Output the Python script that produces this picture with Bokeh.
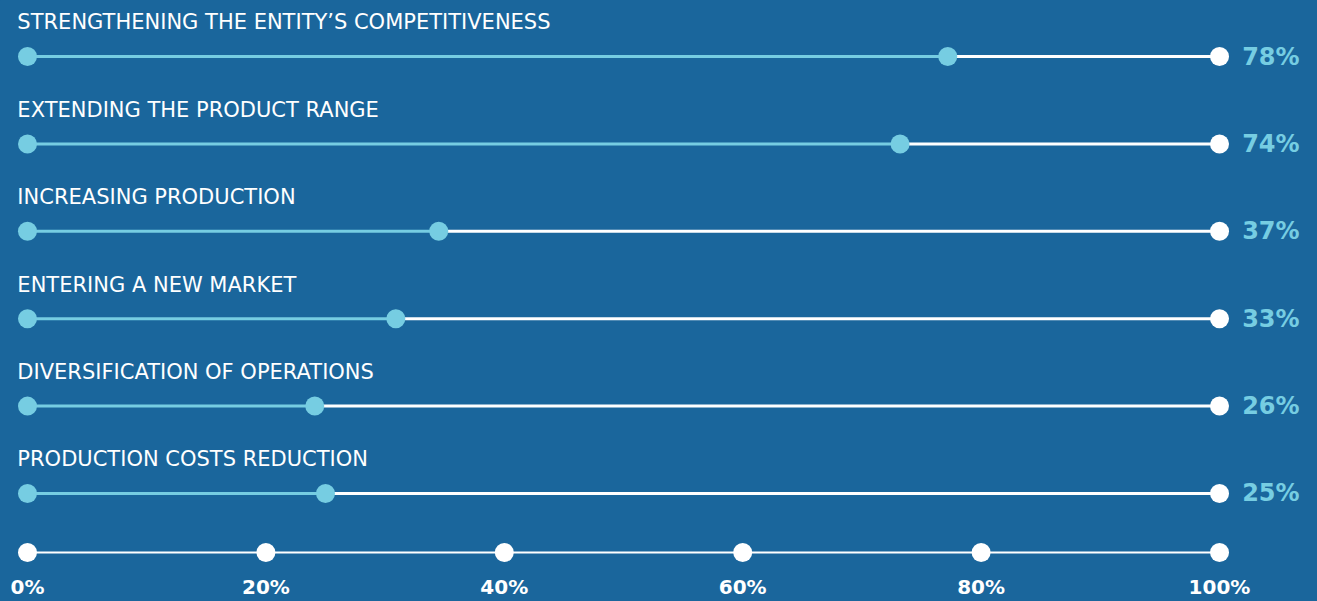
from bokeh.plotting import figure
from bokeh.models import Range1d, ColumnDataSource
from bokeh.core.properties import value
from bokeh.embed import file_html
from bokeh.resources import INLINE

categories = [
    "STRENGTHENING THE ENTITY\u2019S COMPETITIVENESS",
    "EXTENDING THE PRODUCT RANGE",
    "INCREASING PRODUCTION",
    "ENTERING A NEW MARKET",
    "DIVERSIFICATION OF OPERATIONS",
    "PRODUCTION COSTS REDUCTION",
]
pct_labels = [78, 74, 37, 33, 26, 25]
marker_pos = [77.2, 73.2, 34.5, 30.9, 24.1, 25.0]
ticks = [0, 20, 40, 60, 80, 100]
tick_labels = ["0%", "20%", "40%", "60%", "80%", "100%"]

BG = "#1a669c"
LIGHT = "#76cde2"
WHITE = "#ffffff"

n = len(categories)
rows = list(range(n))
axis_y = 5.675

p = figure(width=1317, height=601, output_backend="svg", toolbar_location=None,
           x_range=Range1d(-2.265, 108.22), y_range=Range1d(6.236, -0.641),
           min_border=0, background_fill_color=BG, border_fill_color=BG)
p.axis.visible = False
p.grid.visible = False
p.outline_line_color = None

src = ColumnDataSource(dict(
    y=rows, cat=categories, pos=marker_pos,
    zero=[0] * n, full=[100] * n,
    lab=[f"{v}%" for v in pct_labels],
    ly=[r - 0.39 for r in rows],
))

# white track to 100%
p.segment(x0="pos", y0="y", x1="full", y1="y", source=src, line_color=WHITE, line_width=3)
# light-blue progress
p.segment(x0="zero", y0="y", x1="pos", y1="y", source=src, line_color=LIGHT, line_width=3)
p.scatter(x="full", y="y", source=src, size=19, fill_color=WHITE, line_color=None)
p.scatter(x="zero", y="y", source=src, size=19, fill_color=LIGHT, line_color=None)
p.scatter(x="pos", y="y", source=src, size=19, fill_color=LIGHT, line_color=None)

p.text(x=-0.85, y="ly", text="cat", source=src, text_color=WHITE,
       text_font=value("DejaVu Sans"), text_font_size="21px",
       text_baseline="middle", text_align="left")
p.text(x=101.9, y="y", text="lab", source=src, text_color=LIGHT,
       text_font=value("DejaVu Sans"), text_font_style="bold", text_font_size="24px",
       text_baseline="middle", text_align="left")

# bottom scale
tsrc = ColumnDataSource(dict(x=ticks, y=[axis_y] * len(ticks), lab=tick_labels,
                             ly=[axis_y + 0.4] * len(ticks)))
p.line(x=[ticks[0], ticks[-1]], y=[axis_y, axis_y], line_color=WHITE, line_width=2)
p.scatter(x="x", y="y", source=tsrc, size=19, fill_color=WHITE, line_color=None)
p.text(x="x", y="ly", text="lab", source=tsrc, text_color=WHITE,
       text_font=value("DejaVu Sans"), text_font_style="bold", text_font_size="20px",
       text_baseline="middle", text_align="center")

TEMPLATE = """{% block postamble %}<style>html,body{margin:0;padding:0;overflow:hidden;background:#1a669c;}</style>{% endblock %}"""
open("out.html", "w").write(file_html(p, INLINE, template=TEMPLATE))
